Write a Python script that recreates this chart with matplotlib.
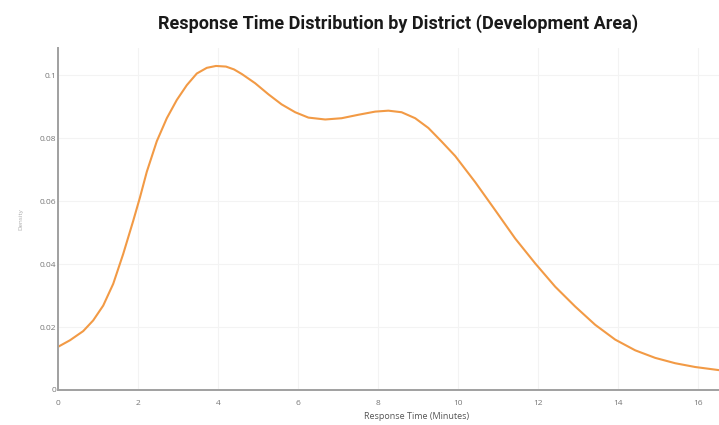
import matplotlib
matplotlib.use('Agg')
from matplotlib import pyplot as plt
from matplotlib.ticker import FuncFormatter

plt.rcParams['font.family'] = ['Open Sans', 'DejaVu Sans']

# 响应时间 (分钟) 与密度
minutes = [0, 0.3, 0.63, 0.88, 1.13, 1.38, 1.63, 1.88, 2.05, 2.22, 2.47, 2.72, 2.97,
           3.22, 3.47, 3.72, 3.95, 4.2, 4.4, 4.6, 4.93, 5.26, 5.59, 5.93, 6.26, 6.68,
           7.09, 7.51, 7.93, 8.26, 8.59, 8.93, 9.26, 9.59, 9.93, 10.43, 10.93, 11.43,
           11.93, 12.43, 12.93, 13.43, 13.93, 14.43, 14.93, 15.43, 15.93, 16.53]
density = [0.0137, 0.0158, 0.0187, 0.0221, 0.0268, 0.0337, 0.0432, 0.0537, 0.0612,
           0.0693, 0.079, 0.0863, 0.0921, 0.0968, 0.1005, 0.1023, 0.1029, 0.1027,
           0.1018, 0.1003, 0.0974, 0.0939, 0.0907, 0.0882, 0.0865, 0.0859, 0.0863,
           0.0874, 0.0884, 0.0887, 0.0882, 0.0863, 0.0832, 0.0789, 0.0743, 0.066,
           0.0571, 0.0481, 0.0402, 0.0328, 0.0265, 0.0207, 0.016, 0.0126, 0.0102,
           0.0085, 0.0073, 0.0063]
x_ticks = [0, 2, 4, 6, 8, 10, 12, 14, 16]
y_ticks = [0, 0.02, 0.04, 0.06, 0.08, 0.1]

fig = plt.figure(figsize=(7.19, 4.25), dpi=100)
# 坐标轴右侧超出画面（原图被裁剪）
ax = fig.add_axes([58 / 719, 1 - 390 / 425, 718 / 719, 342 / 425])

ax.plot(minutes, density, color='#f29a45', linewidth=1.5,
        solid_capstyle='round', solid_joinstyle='round')

ax.set_xlim(0, 17.95)
ax.set_ylim(0, 0.1086)
ax.set_xticks(x_ticks)
ax.set_yticks(y_ticks)
ax.yaxis.set_major_formatter(FuncFormatter(lambda v, p: f'{v:g}'))

ax.grid(True, color='#f3f3f3', linewidth=0.8)
ax.set_axisbelow(True)
for side in ['top', 'right']:
    ax.spines[side].set_visible(False)
for side in ['left', 'bottom']:
    ax.spines[side].set_color('#a0a0a0')
    ax.spines[side].set_linewidth(1.4)

ax.tick_params(axis='both', length=0, labelsize=6, labelcolor='#777777')
ax.tick_params(axis='y', pad=1)
ax.tick_params(axis='x', pad=7)

ax.set_xlabel('Response Time (Minutes)', fontsize=6.5, color='#555555', labelpad=4)
ax.set_ylabel('Density', fontsize=4.5, color='#aaaaaa', labelpad=12)

fig.text(398 / 719, 1 - 24 / 425, 'Response Time Distribution by District (Development Area)',
         ha='center', va='center', fontsize=13, fontweight='bold',
         family=['Roboto', 'DejaVu Sans'], color='#1a1a1a')

fig.savefig('out.png', dpi=100)
